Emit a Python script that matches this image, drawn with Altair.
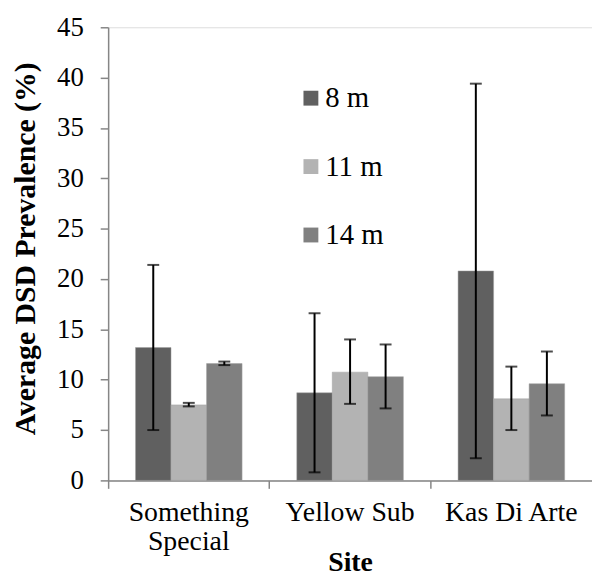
import altair as alt
import pandas as pd

sites = ["Something\nSpecial", "Yellow Sub", "Kas Di Arte"]
depths = ["8 m", "11 m", "14 m"]
means = [[13.2, 7.5, 11.6], [8.7, 10.75, 10.3], [20.8, 8.1, 9.6]]
err_hi = [[21.4, 7.7, 11.8], [16.6, 14.0, 13.5], [39.4, 11.3, 12.8]]
err_lo = [[5.0, 7.35, 11.45], [0.8, 7.6, 7.15], [2.2, 5.0, 6.45]]
colors = ["#606060", "#b3b3b3", "#808080"]

rows = []
for i, s in enumerate(sites):
    for j, d in enumerate(depths):
        rows.append({"site": s, "depth": d, "mean": means[i][j],
                     "hi": err_hi[i][j], "lo": err_lo[i][j]})
df = pd.DataFrame(rows)

FONT = "'Liberation Serif', 'Times New Roman', Times, serif"

x = alt.X("site:N", sort=sites, title="Site",
          scale=alt.Scale(paddingInner=0, paddingOuter=0),
          axis=alt.Axis(labelAngle=0, labelExpr="split(datum.label, '\\n')",
                        bandPosition=0, labelFontSize=28, labelFont=FONT,
                        labelColor="black", labelPadding=10, labelLineHeight=30,
                        titleFontSize=28, titleFont=FONT, titleFontWeight="bold",
                        titleColor="black", titlePadding=-7,
                        domainColor="#868686", tickColor="#868686", tickSize=8,
                        domainWidth=1.5, tickWidth=1.5))
xo = alt.XOffset("depth:N", sort=depths, scale=alt.Scale(paddingOuter=0.77, paddingInner=0))

bars = alt.Chart(df).mark_bar(stroke="#a0a0a0", strokeWidth=0.5).encode(
    x=x, xOffset=xo,
    y=alt.Y("mean:Q", title="Average DSD Prevalence (%)",
            scale=alt.Scale(domain=[0, 45], nice=False),
            axis=alt.Axis(values=list(range(0, 46, 5)), grid=False,
                          labelFontSize=27, labelFont=FONT, labelColor="black",
                          labelPadding=17, titleFontSize=30, titleFont=FONT,
                          titleFontWeight="bold", titleColor="black", titlePadding=16,
                          titleY=223,
                          domainColor="#868686", tickColor="#868686", tickSize=8,
                          domainWidth=1.5, tickWidth=1.5)),
    color=alt.Color("depth:N", sort=depths,
                    scale=alt.Scale(domain=depths, range=colors),
                    legend=alt.Legend(title=None, orient="none", legendX=190, legendY=57,
                                      symbolType="square", symbolSize=225,
                                      symbolStrokeWidth=0, labelFontSize=29,
                                      labelFont=FONT, labelColor="black",
                                      rowPadding=39, labelOffset=0)),
)

rules = alt.Chart(df).mark_rule(color="black", strokeWidth=2).encode(
    x=alt.X("site:N", sort=sites), xOffset=xo, y="lo:Q", y2="hi:Q")

caps_hi = alt.Chart(df).mark_tick(color="black", thickness=2, size=12, orient="horizontal").encode(
    x=alt.X("site:N", sort=sites), xOffset=xo, y="hi:Q")
caps_lo = alt.Chart(df).mark_tick(color="black", thickness=2, size=12, orient="horizontal").encode(
    x=alt.X("site:N", sort=sites), xOffset=xo, y="lo:Q")

chart = alt.layer(bars, rules, caps_hi, caps_lo).properties(
    width=488, height=457,
    padding={"left": 3, "top": 3, "right": 0, "bottom": 0},
).configure_view(stroke=None).configure(background="white", font=FONT)

chart.save("out.html", embed_options={"renderer": "svg", "actions": False})
